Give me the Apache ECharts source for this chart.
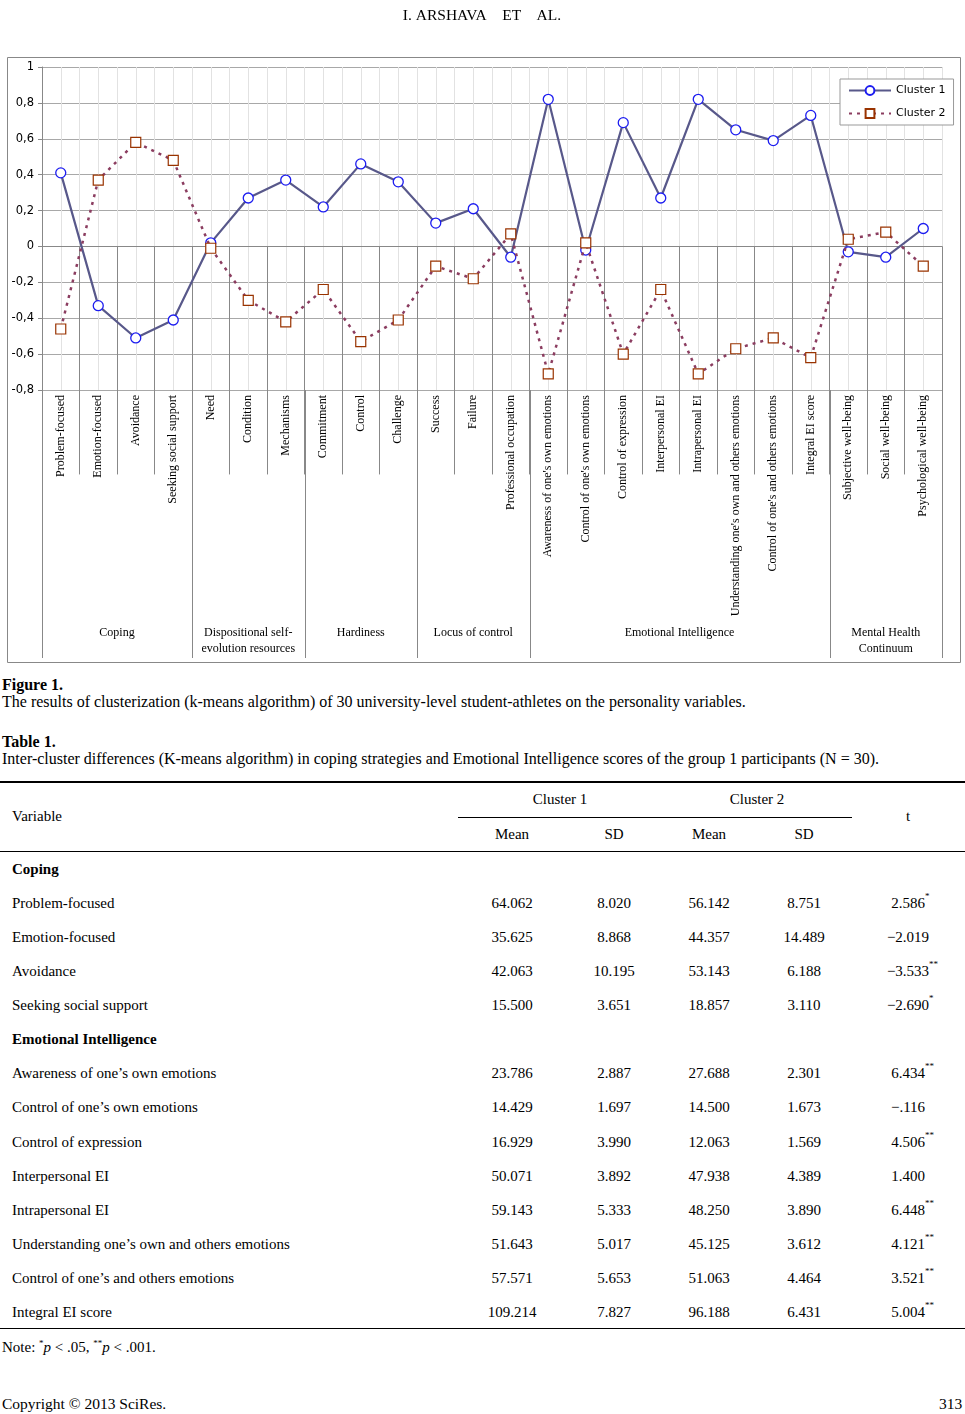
<!DOCTYPE html>
<html>
<head>
<meta charset="utf-8">
<script src="https://cdn.jsdelivr.net/npm/echarts@6/dist/echarts.min.js"></script>
<style>
  html, body { margin: 0; padding: 0; background: #fff; }
  body { width: 965px; height: 1414px; position: relative; overflow: hidden; font-family: "Liberation Serif", "Times New Roman", serif; color: #000; }
  #chart { position: absolute; left: 0; top: 0; width: 965px; height: 670px; }
  .t { position: absolute; white-space: nowrap; font-size: 15px; line-height: 18px; }
  .cap { font-size: 16px; }
  .hd { font-size: 15.5px; }
  .c { transform: translateX(-50%); }
  .b { font-weight: bold; }
  .rule { position: absolute; background: #000; }
  .num { position: absolute; white-space: nowrap; font-size: 15px; line-height: 18px; transform: translateX(-50%); }
  .num sup { position: absolute; left: 100%; top: -2px; font-size: 9px; line-height: 9px; }
</style>
</head>
<body>
<div id="chart"></div>
<div id="page"></div>
<script>
// ---------- chart data ----------
const categories = [
  'Problem-focused', 'Emotion-focused', 'Avoidance', 'Seeking social support',
  'Need', 'Condition', 'Mechanisms',
  'Commitment', 'Control', 'Challenge',
  'Success', 'Failure', 'Professional occupation',
  "Awareness of one's own emotions", "Control of one's own emotions", 'Control of expression',
  'Interpersonal EI', 'Intrapersonal EI', "Understanding one's own and others emotions",
  "Control of one's and others emotions", 'Integral EI score',
  'Subjective well-being', 'Social well-being', 'Psychological well-being'
];
const cluster1 = [0.41, -0.33, -0.51, -0.41, 0.02, 0.27, 0.37, 0.22, 0.46, 0.36, 0.13, 0.21, -0.06,
                  0.82, -0.02, 0.69, 0.27, 0.82, 0.65, 0.59, 0.73, -0.03, -0.06, 0.10];
const cluster2 = [-0.46, 0.37, 0.58, 0.48, -0.01, -0.30, -0.42, -0.24, -0.53, -0.41, -0.11, -0.18, 0.07,
                  -0.71, 0.02, -0.60, -0.24, -0.71, -0.57, -0.51, -0.62, 0.04, 0.08, -0.11];
const seriesNames = ['Cluster 1', 'Cluster 2'];
const groupNames = ['Coping', 'Dispositional self-\nevolution resources', 'Hardiness', 'Locus of control',
                    'Emotional Intelligence', 'Mental Health\nContinuum'];
const groupStarts = [0, 4, 7, 10, 13, 21];
const yMin = -0.8, yMax = 1, yStep = 0.2;

// ---------- table data ----------
const headerText = 'I. ARSHAVA    ET    AL.';
const figureTitle = 'Figure 1.';
const figureCaption = 'The results of clusterization (k-means algorithm) of 30 university-level student-athletes on the personality variables.';
const tableTitle = 'Table 1.';
const tableCaption = 'Inter-cluster differences (K-means algorithm) in coping strategies and Emotional Intelligence scores of the group 1 participants (N = 30).';
const tableColumns = ['Mean', 'SD', 'Mean', 'SD'];
const tableRows = [
  ['Coping'],
  ['Problem-focused', '64.062', '8.020', '56.142', '8.751', '2.586', '*'],
  ['Emotion-focused', '35.625', '8.868', '44.357', '14.489', '\u22122.019', ''],
  ['Avoidance', '42.063', '10.195', '53.143', '6.188', '\u22123.533', '**'],
  ['Seeking social support', '15.500', '3.651', '18.857', '3.110', '\u22122.690', '*'],
  ['Emotional Intelligence'],
  ['Awareness of one\u2019s own emotions', '23.786', '2.887', '27.688', '2.301', '6.434', '**'],
  ['Control of one\u2019s own emotions', '14.429', '1.697', '14.500', '1.673', '\u2212.116', ''],
  ['Control of expression', '16.929', '3.990', '12.063', '1.569', '4.506', '**'],
  ['Interpersonal EI', '50.071', '3.892', '47.938', '4.389', '1.400', ''],
  ['Intrapersonal EI', '59.143', '5.333', '48.250', '3.890', '6.448', '**'],
  ['Understanding one\u2019s own and others emotions', '51.643', '5.017', '45.125', '3.612', '4.121', '**'],
  ['Control of one\u2019s and others emotions', '57.571', '5.653', '51.063', '4.464', '3.521', '**'],
  ['Integral EI score', '109.214', '7.827', '96.188', '6.431', '5.004', '**']
];

// ---------- chart ----------
const chart = echarts.init(document.getElementById('chart'), null, { renderer: 'canvas' });
const halfCats = categories.flatMap(c => [c + ' a', c + ' b']);

chart.setOption({
  animation: false,
  grid: { left: 42, right: 23, top: 67, bottom: 280, containLabel: false },
  legend: {
    data: seriesNames,
    orient: 'vertical',
    left: 840, top: 79,
    padding: [6, 8, 6, 8],
    itemGap: 12,
    itemWidth: 42, itemHeight: 11,
    backgroundColor: '#fff',
    borderColor: '#999', borderWidth: 1,
    textStyle: { fontFamily: 'DejaVu Sans', fontSize: 11, color: '#000' }
  },
  xAxis: [{
    type: 'category',
    data: categories,
    position: 'bottom',
    axisLine: { show: true, lineStyle: { color: '#888', width: 1 } },
    axisTick: { show: true, interval: 0, length: 228, lineStyle: { color: '#888', width: 1 } },
    axisLabel: {
      interval: 0, rotate: 90, margin: 5,
      fontFamily: 'Liberation Serif', fontSize: 12, color: '#000'
    },
    splitLine: { show: false }
  }, {
    type: 'category',
    data: halfCats,
    position: 'bottom',
    axisLine: { show: false }, axisTick: { show: false }, axisLabel: { show: false },
    splitLine: { show: true, interval: 0, lineStyle: { color: '#e2e2e2', width: 1 } }
  }],
  yAxis: {
    type: 'value', min: yMin, max: yMax, interval: yStep,
    axisLine: { show: true, lineStyle: { color: '#888' } },
    axisTick: { show: true, length: 4, lineStyle: { color: '#888' } },
    axisLabel: {
      margin: 8, fontFamily: 'DejaVu Sans', fontSize: 11.5, color: '#000',
      formatter: v => (Math.round(v * 10) / 10).toString().replace('.', ',')
    },
    splitLine: { show: true, lineStyle: { color: '#a8a8a8', width: 1 } }
  },
  series: [{
    name: seriesNames[0], type: 'line', data: cluster1, xAxisIndex: 0,
    symbol: 'circle', symbolSize: 10,
    lineStyle: { color: '#58588a', width: 2.2, type: 'solid' },
    itemStyle: { color: '#fff', borderColor: '#1c1cf0', borderWidth: 1.3 },
    z: 3
  }, {
    name: seriesNames[1], type: 'line', data: cluster2, xAxisIndex: 0,
    symbol: 'rect', symbolSize: 10,
    lineStyle: { color: '#8b3d60', width: 2.5, type: [3, 5] },
    itemStyle: { color: '#fff', borderColor: '#993300', borderWidth: 1.2 },
    z: 4
  }]
});

// Decorations derived from the axis scale
const cx = i => chart.convertToPixel({ xAxisIndex: 0 }, i);
const band = cx(1) - cx(0);
const boundary = i => cx(i) - band / 2;
const yBottom = chart.convertToPixel({ yAxisIndex: 0 }, yMin);
const groupLineBottom = 658;
const groupLabelY = 641;
const graphics = [];
graphics.push({
  type: 'rect', silent: true,
  shape: { x: 7.5, y: 57.5, width: 953, height: 605 },
  style: { fill: 'none', stroke: '#888', lineWidth: 1 }, z: 0
});
const ends = groupStarts.concat([categories.length]);
ends.forEach(i => {
  const x = Math.round(boundary(i)) + 0.5;
  graphics.push({
    type: 'line', silent: true,
    shape: { x1: x, y1: yBottom, x2: x, y2: groupLineBottom },
    style: { stroke: '#888', lineWidth: 1 }
  });
});
groupNames.forEach((name, g) => {
  const a = boundary(groupStarts[g]);
  const b = boundary(ends[g + 1]);
  graphics.push({
    type: 'text', silent: true,
    x: (a + b) / 2, y: groupLabelY,
    style: {
      text: name, align: 'center', verticalAlign: 'middle',
      font: '12px "Liberation Serif"', lineHeight: 16, fill: '#000',
      y: name.indexOf('\n') >= 0 ? 0 : -8
    }
  });
});
chart.setOption({ graphic: graphics });

// ---------- page text and table ----------
const page = document.getElementById('page');
function add(cls, x, y, html) {
  const d = document.createElement('div');
  d.className = cls;
  d.style.left = x + 'px';
  d.style.top = (y - 9) + 'px';
  d.innerHTML = html;
  page.appendChild(d);
  return d;
}
function rule(x, y, w, h) {
  const d = document.createElement('div');
  d.className = 'rule';
  d.style.left = x + 'px'; d.style.top = y + 'px';
  d.style.width = w + 'px'; d.style.height = h + 'px';
  page.appendChild(d);
}
add('t c hd', 482, 15, headerText.replace(/ /g, '&nbsp;'));
add('t b cap', 2, 685, figureTitle);
add('t cap', 2, 702, figureCaption);
add('t b cap', 2, 742, tableTitle);
add('t cap', 2, 759, tableCaption);
rule(0, 781, 965, 1.5);
add('t', 12, 816, 'Variable');
add('t c', 560, 799, seriesNames[0]);
add('t c', 757, 799, seriesNames[1]);
rule(458, 816.5, 394, 1);
const colX = [512, 614, 709, 804, 908];
tableColumns.forEach((c, i) => add('t c', colX[i], 834, c));
add('t c', colX[4], 816, 't');
rule(0, 850.5, 965, 1.5);
tableRows.forEach((r, i) => {
  const y = 869 + i * 34.07;
  if (r.length === 1) {
    add('t b', 12, y, r[0]);
  } else {
    add('t', 12, y, r[0]);
    for (let k = 0; k < 5; k++) {
      const html = k === 4 && r[6] ? r[5] + '<sup>' + r[6] + '</sup>' : r[k + 1];
      add('num', colX[k], y, html);
    }
  }
});
rule(0, 1327.5, 965, 1.5);
add('t', 2, 1343, 'Note: <sup style="font-size:9px">*</sup><i>p</i> &lt; .05, <sup style="font-size:9px">**</sup><i>p</i> &lt; .001.');
add('t hd', 2, 1404, 'Copyright \u00a9 2013 SciRes.');
add('t hd', 939, 1404, '313');
</script>
</body>
</html>
